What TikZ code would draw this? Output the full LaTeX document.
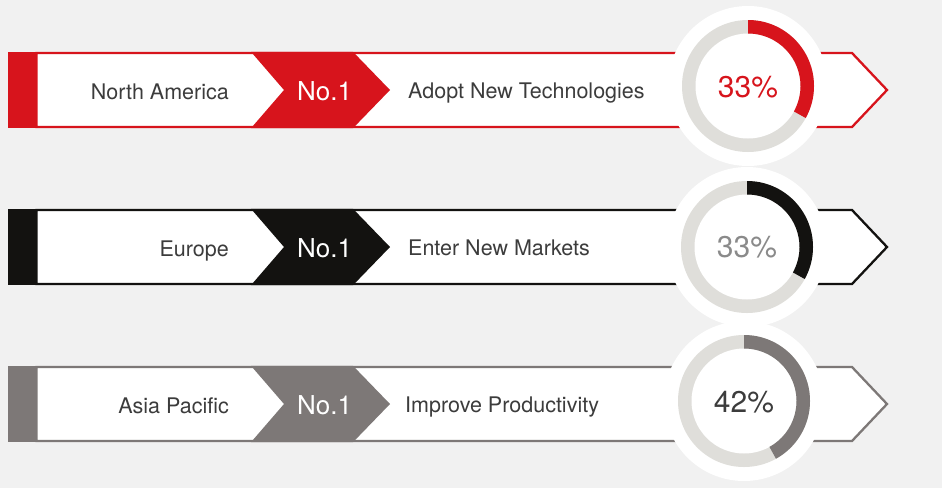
\documentclass[tikz,border=0pt]{standalone}
\usepackage{fontspec}
\setmainfont{TeX Gyre Heros}
\definecolor{bg}{HTML}{F1F1F1}
\definecolor{cred}{HTML}{D7141C}
\definecolor{cblack}{HTML}{131210}
\definecolor{cgray}{HTML}{7D7877}
\definecolor{ringlight}{HTML}{DFDEDA}
\definecolor{txt}{HTML}{3C3C3C}
\definecolor{pgray}{HTML}{8A8A8A}
\tikzset{
  region/.style={anchor=base east, inner sep=0pt, text=txt, font=\fontsize{21.5}{24}\selectfont},
  action/.style={anchor=base west, inner sep=0pt, text=txt, font=\fontsize{21.5}{24}\selectfont},
  rank/.style={anchor=base, inner sep=0pt, text=white, font=\fontsize{26}{30}\selectfont},
  pct/.style={anchor=base, inner sep=0pt, font=\fontsize{30}{34}\selectfont},
}
\newcommand{\bandrow}[7]{%
  % #1 center y, #2 colour, #3 donut cx, #4 donut cy, #5 end angle, #6 id
  \fill[#2] (8,-#1+38.2) rectangle (36,-#1-38.2);
  \draw[#2, line width=2.3pt, fill=white, line join=miter]
    (36.5,-#1+37) -- (852,-#1+37) -- (887,-#1) -- (852,-#1-37) -- (36.5,-#1-37) -- cycle;
  \fill[#2] (251,-#1+38.2) -- (353,-#1+38.2) -- (390,-#1) -- (353,-#1-38.2) -- (251,-#1-38.2) -- (284,-#1) -- cycle;
  \coordinate (d#6) at (#3,-#4);
  \fill[white] (d#6) circle (80);
  \fill[ringlight] (d#6) circle (66);
  \fill[white] (d#6) circle (52.5);
  \fill[#2] ([shift={(90:66)}]d#6) arc[start angle=90, end angle=#5, radius=66]
    -- ([shift={(#5:52.5)}]d#6) arc[start angle=#5, end angle=90, radius=52.5] -- cycle;
}
\begin{document}
\begin{tikzpicture}[x=1pt,y=1pt]
\fill[bg] (0,0) rectangle (942,-488);
\useasboundingbox (0,0) rectangle (942,-488);

\bandrow{90}{cred}{748}{86}{-29}{a}{}
\node[region] (r1) at (229,-99) {North America};
\node[rank] (n1) at (324.5,-100) {No.1};
\node[action] (a1) at (408,-98) {Adopt New Technologies};
\node[pct, text=cred] (p1) at (748,-97) {33\%};

\bandrow{247}{cblack}{747}{247}{-29}{b}{}
\node[region] (r2) at (229,-256) {Europe};
\node[rank] (n2) at (324.5,-257) {No.1};
\node[action] (a2) at (408,-255) {Enter New Markets};
\node[pct, text=pgray] (p2) at (747,-257) {33\%};

\bandrow{404}{cgray}{744}{401}{-61}{c}{}
\node[region] (r3) at (229,-413) {Asia Pacific};
\node[rank] (n3) at (324.5,-414) {No.1};
\node[action] (a3) at (405,-412) {Improve Productivity};
\node[pct, text=txt] (p3) at (744,-412) {42\%};
\end{tikzpicture}
\end{document}
